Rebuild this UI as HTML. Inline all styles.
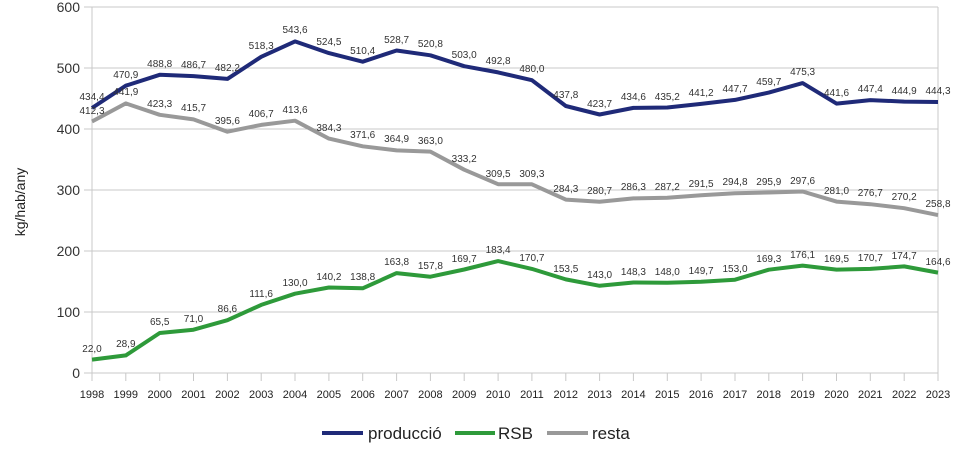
<!DOCTYPE html>
<html><head><meta charset="utf-8"><style>
html,body{margin:0;padding:0;background:#fff;}
svg{display:block;font-family:"Liberation Sans",sans-serif;}
</style></head><body>
<svg width="974" height="458" viewBox="0 0 974 458" xmlns="http://www.w3.org/2000/svg">
<g stroke="#c8c8c8" stroke-width="1">
<line x1="84" y1="7" x2="938" y2="7"/><line x1="84" y1="68" x2="938" y2="68"/><line x1="84" y1="129" x2="938" y2="129"/><line x1="84" y1="190" x2="938" y2="190"/><line x1="84" y1="251" x2="938" y2="251"/><line x1="84" y1="312" x2="938" y2="312"/><line x1="84" y1="373" x2="938" y2="373"/>
<line x1="92" y1="7" x2="92" y2="373"/><line x1="938" y1="7" x2="938" y2="381"/>
</g>
<g stroke="#c8c8c8" stroke-width="1">
<line x1="92" y1="373" x2="92" y2="381"/><line x1="125.8" y1="373" x2="125.8" y2="381"/><line x1="159.7" y1="373" x2="159.7" y2="381"/><line x1="193.5" y1="373" x2="193.5" y2="381"/><line x1="227.4" y1="373" x2="227.4" y2="381"/><line x1="261.2" y1="373" x2="261.2" y2="381"/><line x1="295" y1="373" x2="295" y2="381"/><line x1="328.9" y1="373" x2="328.9" y2="381"/><line x1="362.7" y1="373" x2="362.7" y2="381"/><line x1="396.6" y1="373" x2="396.6" y2="381"/><line x1="430.4" y1="373" x2="430.4" y2="381"/><line x1="464.2" y1="373" x2="464.2" y2="381"/><line x1="498.1" y1="373" x2="498.1" y2="381"/><line x1="531.9" y1="373" x2="531.9" y2="381"/><line x1="565.8" y1="373" x2="565.8" y2="381"/><line x1="599.6" y1="373" x2="599.6" y2="381"/><line x1="633.4" y1="373" x2="633.4" y2="381"/><line x1="667.3" y1="373" x2="667.3" y2="381"/><line x1="701.1" y1="373" x2="701.1" y2="381"/><line x1="735" y1="373" x2="735" y2="381"/><line x1="768.8" y1="373" x2="768.8" y2="381"/><line x1="802.6" y1="373" x2="802.6" y2="381"/><line x1="836.5" y1="373" x2="836.5" y2="381"/><line x1="870.3" y1="373" x2="870.3" y2="381"/><line x1="904.2" y1="373" x2="904.2" y2="381"/>
</g>
<g font-size="14" fill="#333" text-anchor="end">
<text x="80" y="12">600</text><text x="80" y="73">500</text><text x="80" y="134">400</text><text x="80" y="195">300</text><text x="80" y="256">200</text><text x="80" y="317">100</text><text x="80" y="378">0</text>
</g>
<text transform="translate(25,202) rotate(-90)" font-size="14" fill="#222" text-anchor="middle">kg/hab/any</text>
<g font-size="11" fill="#222" text-anchor="middle">
<text x="92" y="398">1998</text><text x="125.8" y="398">1999</text><text x="159.7" y="398">2000</text><text x="193.5" y="398">2001</text><text x="227.4" y="398">2002</text><text x="261.2" y="398">2003</text><text x="295" y="398">2004</text><text x="328.9" y="398">2005</text><text x="362.7" y="398">2006</text><text x="396.6" y="398">2007</text><text x="430.4" y="398">2008</text><text x="464.2" y="398">2009</text><text x="498.1" y="398">2010</text><text x="531.9" y="398">2011</text><text x="565.8" y="398">2012</text><text x="599.6" y="398">2013</text><text x="633.4" y="398">2014</text><text x="667.3" y="398">2015</text><text x="701.1" y="398">2016</text><text x="735" y="398">2017</text><text x="768.8" y="398">2018</text><text x="802.6" y="398">2019</text><text x="836.5" y="398">2020</text><text x="870.3" y="398">2021</text><text x="904.2" y="398">2022</text><text x="938" y="398">2023</text>
</g>
<g fill="none" stroke-width="4" stroke-linejoin="round">
<polyline stroke="#999999" points="92,121.5 125.8,103.4 159.7,114.8 193.5,119.4 227.4,131.7 261.2,124.9 295,120.7 328.9,138.6 362.7,146.3 396.6,150.4 430.4,151.6 464.2,169.7 498.1,184.2 531.9,184.3 565.8,199.6 599.6,201.8 633.4,198.4 667.3,197.8 701.1,195.2 735,193.2 768.8,192.5 802.6,191.5 836.5,201.6 870.3,204.2 904.2,208.2 938,215.1"/>
<polyline stroke="#2e9a3a" points="92,359.6 125.8,355.4 159.7,333 193.5,329.7 227.4,320.2 261.2,304.9 295,293.7 328.9,287.5 362.7,288.3 396.6,273.1 430.4,276.7 464.2,269.5 498.1,261.1 531.9,268.9 565.8,279.4 599.6,285.8 633.4,282.5 667.3,282.7 701.1,281.7 735,279.7 768.8,269.7 802.6,265.6 836.5,269.6 870.3,268.9 904.2,266.4 938,272.6"/>
<polyline stroke="#1f2a78" points="92,108 125.8,85.7 159.7,74.8 193.5,76.1 227.4,78.9 261.2,56.8 295,41.4 328.9,53.1 362.7,61.7 396.6,50.5 430.4,55.3 464.2,66.2 498.1,72.4 531.9,80.2 565.8,106 599.6,114.5 633.4,107.9 667.3,107.5 701.1,103.9 735,99.9 768.8,92.6 802.6,83.1 836.5,103.6 870.3,100.1 904.2,101.6 938,102"/>
</g>
<g font-size="10" fill="#333" text-anchor="middle">
<text x="92" y="100">434,4</text><text x="125.8" y="78">470,9</text><text x="159.7" y="67">488,8</text><text x="193.5" y="68">486,7</text><text x="227.4" y="71">482,2</text><text x="261.2" y="49">518,3</text><text x="295" y="33">543,6</text><text x="328.9" y="45">524,5</text><text x="362.7" y="54">510,4</text><text x="396.6" y="43">528,7</text><text x="430.4" y="47">520,8</text><text x="464.2" y="58">503,0</text><text x="498.1" y="64">492,8</text><text x="531.9" y="72">480,0</text><text x="565.8" y="98">437,8</text><text x="599.6" y="107">423,7</text><text x="633.4" y="100">434,6</text><text x="667.3" y="100">435,2</text><text x="701.1" y="96">441,2</text><text x="735" y="92">447,7</text><text x="768.8" y="85">459,7</text><text x="802.6" y="75">475,3</text><text x="836.5" y="96">441,6</text><text x="870.3" y="92">447,4</text><text x="904.2" y="94">444,9</text><text x="938" y="94">444,3</text>
<text x="92" y="114">412,3</text><text x="125.8" y="95">441,9</text><text x="159.7" y="107">423,3</text><text x="193.5" y="111">415,7</text><text x="227.4" y="124">395,6</text><text x="261.2" y="117">406,7</text><text x="295" y="113">413,6</text><text x="328.9" y="131">384,3</text><text x="362.7" y="138">371,6</text><text x="396.6" y="142">364,9</text><text x="430.4" y="144">363,0</text><text x="464.2" y="162">333,2</text><text x="498.1" y="177">309,5</text><text x="531.9" y="177">309,3</text><text x="565.8" y="192">284,3</text><text x="599.6" y="194">280,7</text><text x="633.4" y="190">286,3</text><text x="667.3" y="190">287,2</text><text x="701.1" y="187">291,5</text><text x="735" y="185">294,8</text><text x="768.8" y="185">295,9</text><text x="802.6" y="184">297,6</text><text x="836.5" y="194">281,0</text><text x="870.3" y="196">276,7</text><text x="904.2" y="200">270,2</text><text x="938" y="207">258,8</text>
<text x="92" y="352">22,0</text><text x="125.8" y="347">28,9</text><text x="159.7" y="325">65,5</text><text x="193.5" y="322">71,0</text><text x="227.4" y="312">86,6</text><text x="261.2" y="297">111,6</text><text x="295" y="286">130,0</text><text x="328.9" y="280">140,2</text><text x="362.7" y="280">138,8</text><text x="396.6" y="265">163,8</text><text x="430.4" y="269">157,8</text><text x="464.2" y="262">169,7</text><text x="498.1" y="253">183,4</text><text x="531.9" y="261">170,7</text><text x="565.8" y="272">153,5</text><text x="599.6" y="278">143,0</text><text x="633.4" y="275">148,3</text><text x="667.3" y="275">148,0</text><text x="701.1" y="274">149,7</text><text x="735" y="272">153,0</text><text x="768.8" y="262">169,3</text><text x="802.6" y="258">176,1</text><text x="836.5" y="262">169,5</text><text x="870.3" y="261">170,7</text><text x="904.2" y="259">174,7</text><text x="938" y="265">164,6</text>
</g>
<g stroke-width="4">
<line x1="322" y1="433" x2="363" y2="433" stroke="#1f2a78"/>
<line x1="455" y1="433" x2="495" y2="433" stroke="#2e9a3a"/>
<line x1="547" y1="433" x2="588" y2="433" stroke="#999999"/>
</g>
<g font-size="17" fill="#222">
<text x="368" y="439">producció</text><text x="498" y="439">RSB</text><text x="592" y="439">resta</text>
</g>
</svg>
</body></html>
